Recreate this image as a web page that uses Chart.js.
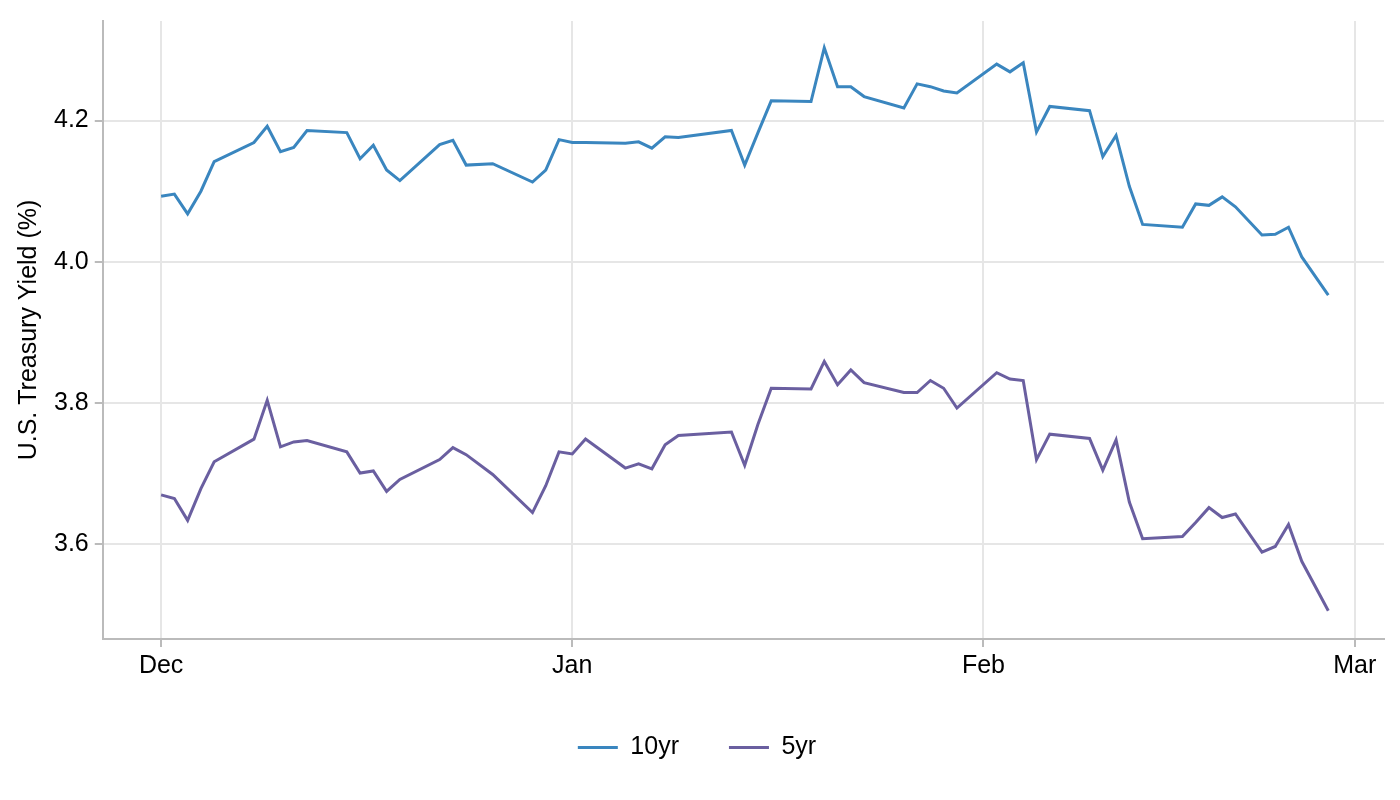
<!DOCTYPE html>
<html><head><meta charset="utf-8">
<script src="https://cdn.jsdelivr.net/npm/chart.js@4"></script>
<style>html,body{margin:0;background:#fff}#w{width:1400px;height:800px}</style>
</head><body><div id="w"><canvas id="c"></canvas></div>
<script>
const days=[0,1,2,3,4,7,8,9,10,11,14,15,16,17,18,21,22,23,25,28,29,30,31,32,35,36,37,38,39,43,44,45,46,49,50,51,52,53,56,57,58,59,60,63,64,65,66,67,70,71,72,73,74,77,78,79,80,81,83,84,85,86,88];
const y10=[4.093,4.096,4.068,4.100,4.142,4.169,4.192,4.156,4.162,4.186,4.183,4.146,4.165,4.130,4.115,4.166,4.172,4.137,4.139,4.113,4.130,4.173,4.169,4.169,4.168,4.170,4.161,4.177,4.176,4.186,4.137,4.183,4.228,4.227,4.303,4.248,4.248,4.234,4.218,4.252,4.248,4.242,4.239,4.280,4.269,4.282,4.184,4.220,4.214,4.149,4.179,4.107,4.053,4.049,4.082,4.080,4.092,4.078,4.038,4.039,4.049,4.007,3.953];
const y5=[3.670,3.665,3.634,3.679,3.717,3.749,3.804,3.738,3.745,3.747,3.731,3.701,3.704,3.675,3.692,3.720,3.737,3.727,3.699,3.645,3.683,3.731,3.728,3.749,3.708,3.714,3.707,3.741,3.754,3.759,3.712,3.770,3.821,3.820,3.859,3.826,3.847,3.829,3.815,3.815,3.832,3.821,3.793,3.843,3.834,3.832,3.720,3.756,3.750,3.705,3.748,3.660,3.608,3.611,3.631,3.652,3.638,3.643,3.589,3.597,3.628,3.576,3.506];
const tickDays=[0,31,62,90];
const tickLabels=['Dec','Jan','Feb','Mar'];
const pts=a=>a.map((v,i)=>({x:days[i],y:v}));
const F="'Liberation Sans', Arial, sans-serif";
new Chart(document.getElementById('c'),{type:'line',
data:{datasets:[
{label:'10yr',data:pts(y10),borderColor:'#3a86bf',backgroundColor:'#3a86bf',borderWidth:3,pointRadius:0,tension:0},
{label:'5yr',data:pts(y5),borderColor:'#6a5fa0',backgroundColor:'#6a5fa0',borderWidth:3,pointRadius:0,tension:0}]},
options:{responsive:true,maintainAspectRatio:false,animation:false,
layout:{padding:{left:10,right:16,top:14,bottom:30}},
plugins:{legend:{position:'bottom',labels:{usePointStyle:true,pointStyle:'line',pointStyleWidth:40,color:'#000',font:{family:F,size:25},padding:50}},tooltip:{enabled:false}},
scales:{
x:{type:'linear',min:-4.4,max:92.2,afterBuildTicks:s=>{s.ticks=tickDays.map(v=>({value:v}));},
ticks:{callback:(v)=>tickLabels[tickDays.indexOf(v)],color:'#000',font:{family:F,size:25},autoSkip:false,maxRotation:0,padding:4},
grid:{color:'#e6e6e6',lineWidth:2,tickLength:8,tickColor:'#bbb'},border:{color:'#bbb',width:2}},
y:{min:3.466,max:4.341,afterBuildTicks:s=>{s.ticks=[3.6,3.8,4.0,4.2].map(v=>({value:v}));},
ticks:{callback:v=>v.toFixed(1),color:'#000',font:{family:F,size:25},padding:6},
title:{display:true,text:'U.S. Treasury Yield (%)',color:'#000',font:{family:F,size:25}},
grid:{color:'#e6e6e6',lineWidth:2,tickLength:8,tickColor:'#bbb'},border:{color:'#bbb',width:2}}}}});
</script></body></html>
